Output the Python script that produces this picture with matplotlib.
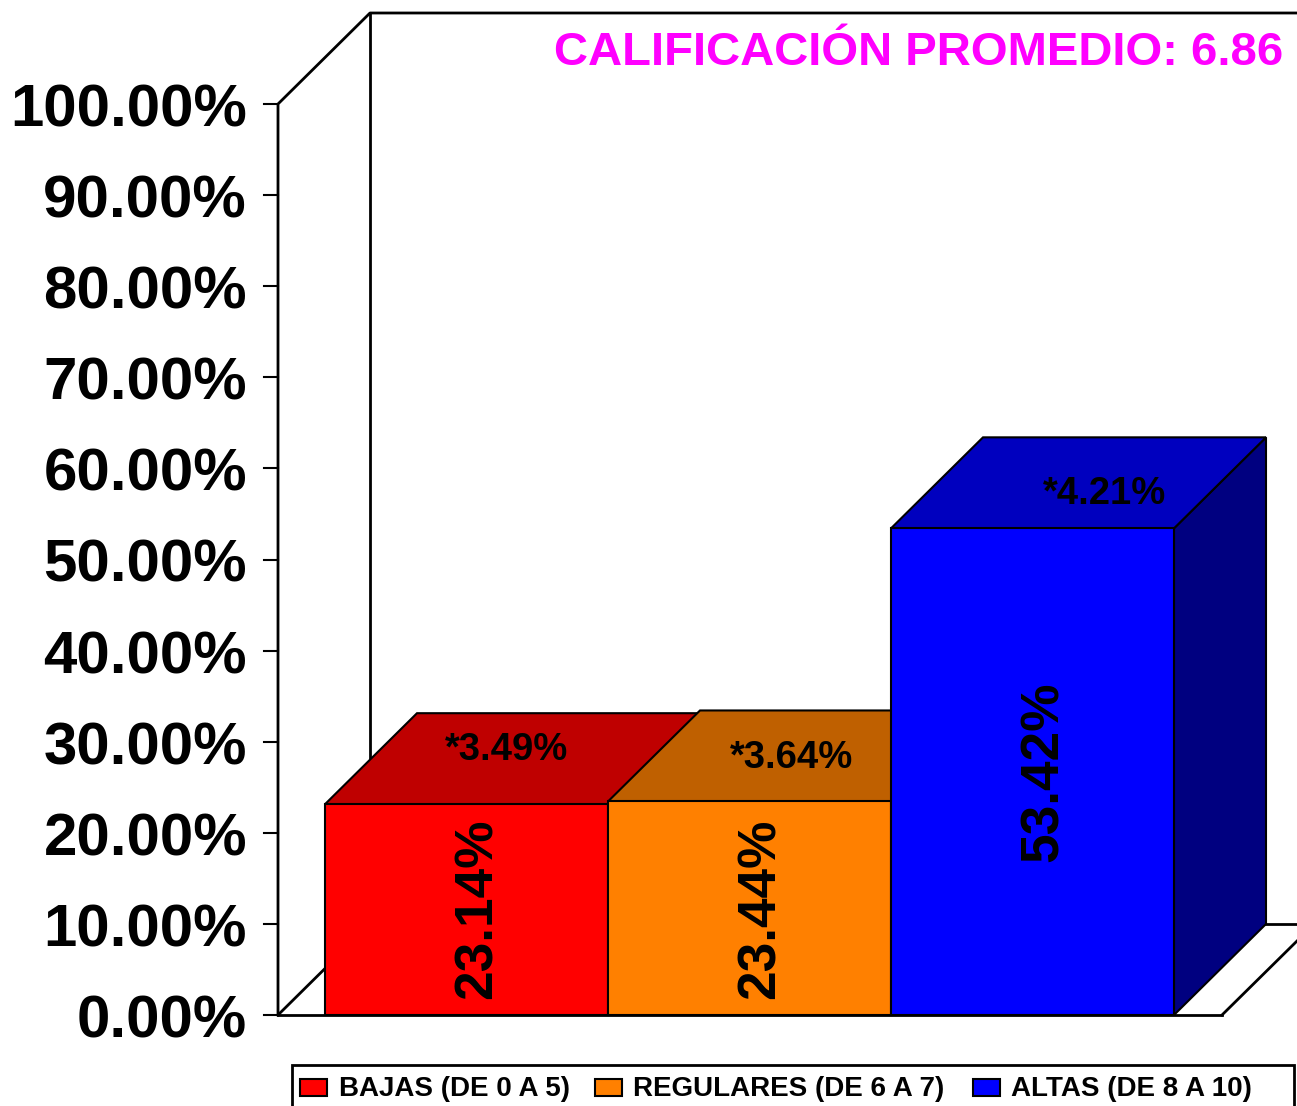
import matplotlib.pyplot as plt
from matplotlib.patches import Polygon, Rectangle

plt.rcParams['font.family'] = ['Liberation Sans', 'DejaVu Sans']

categories = ['BAJAS (DE 0 A 5)', 'REGULARES (DE 6 A 7)', 'ALTAS (DE 8 A 10)']
values = [23.14, 23.44, 53.42]
errors = ['*3.49%', '*3.64%', '*4.21%']
front_colors = ['#FF0000', '#FF8000', '#0000FF']
top_colors = ['#BF0000', '#BF6000', '#0000BF']
side_colors = ['#800000', '#804000', '#000080']
ticks = list(range(0, 101, 10))

W, H = 1297, 1106
fig = plt.figure(figsize=(W / 100, H / 100), dpi=100)
ax = fig.add_axes([0, 0, 1, 1])
# axes in pixel coordinates of the picture
ax.set_xlim(0, W)
ax.set_ylim(H, 0)
ax.axis('off')

x0 = 278
y0 = 1015
y100 = 104
dx = 92
dy = 91
xr = 1222
bar_left = 325
bar_w = 283


def yv(v):
    return y0 - (y0 - y100) * v / 100


# walls
ax.plot([x0, x0, x0 + dx, 1297], [y0, y100, y100 - dy, y100 - dy], color='k', lw=2, clip_on=False)
ax.plot([x0 + dx, x0 + dx], [y100 - dy, y0 - dy], color='k', lw=2)
ax.plot([x0, x0 + dx], [y0, y0 - dy], color='k', lw=2)
ax.plot([x0, xr], [y0, y0], color='k', lw=2)
ax.plot([xr, xr + dx - 17], [y0, y0 - dy + 17], color='k', lw=2)
ax.plot([x0 + dx, 1297], [y0 - dy, y0 - dy], color='k', lw=2)

# ticks
for t in ticks:
    y = yv(t)
    ax.plot([x0 - 14, x0], [y, y], color='k', lw=1.5)
    ax.text(247, y + 7, f'{t:.2f}%', ha='right', va='center', fontsize=43.2, fontweight='bold')

# bars
for i, v in enumerate(values):
    l = bar_left + i * bar_w
    r = l + bar_w
    top = yv(v)
    side = Polygon([(r, y0), (r + dx, y0 - dy), (r + dx, top - dy), (r, top)],
                   fc=side_colors[i], ec='k', lw=1.5, zorder=2 + i)
    roof = Polygon([(l, top), (l + dx, top - dy), (r + dx, top - dy), (r, top)],
                   fc=top_colors[i], ec='k', lw=1.5, zorder=2 + i)
    front = Rectangle((l, top), bar_w, y0 - top, fc=front_colors[i], ec='k', lw=1.5, zorder=2 + i)
    ax.add_patch(side)
    ax.add_patch(roof)
    ax.add_patch(front)

# value labels, rotated
label_y = [999, 999, 862]
label_x = [478, 761, 1044]
for i, v in enumerate(values):
    ax.text(label_x[i], label_y[i], f'{v:.2f}%', rotation=90, ha='center', va='bottom',
            fontsize=38.3, fontweight='bold', zorder=10)

err_x = [507, 792, 1105]
err_y = [750, 758, 494]
for i, e in enumerate(errors):
    ax.text(err_x[i], err_y[i], e, ha='center', va='center', fontsize=27.5, fontweight='bold', zorder=10)

ax.text(1283, 53, 'CALIFICACIÓN PROMEDIO: 6.86', ha='right', va='center', color='#FF00FF',
        fontsize=34, fontweight='bold')

# legend
ax.add_patch(Rectangle((292, 1065), 1002, 45, fc='white', ec='k', lw=2, clip_on=True))
swatch_x = [300, 595, 973]
text_x = [339, 633, 1011]
for i, c in enumerate(categories):
    ax.add_patch(Rectangle((swatch_x[i], 1079), 27, 17, fc=front_colors[i], ec='k', lw=1.5))
    ax.text(text_x[i], 1089, c, ha='left', va='center', fontsize=20, fontweight='bold')

fig.savefig('out.png', dpi=100)
